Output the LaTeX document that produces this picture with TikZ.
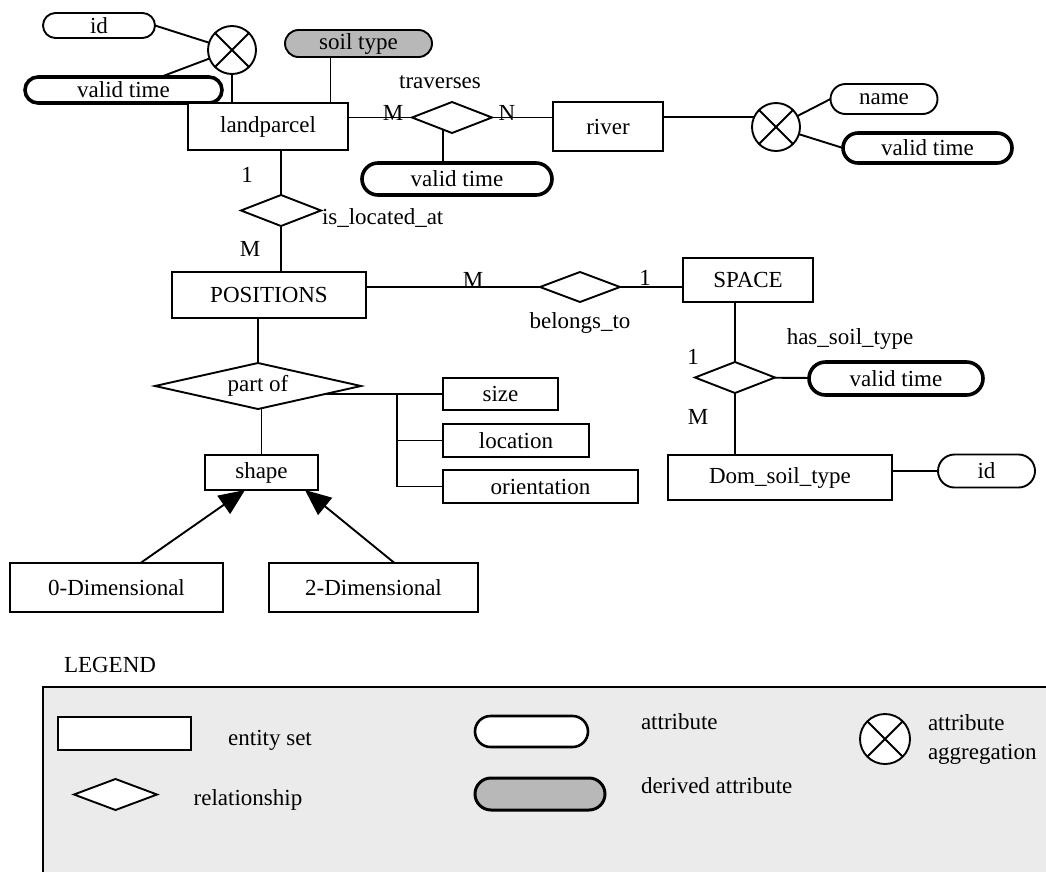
\documentclass[tikz,border=0pt]{standalone}
\usepackage{fontspec}
\setmainfont{Liberation Serif}
\usetikzlibrary{shapes.geometric,shapes.misc,arrows.meta,backgrounds}
\begin{document}
\begin{tikzpicture}[x=1pt,y=-1pt,
  every node/.style={font=\fontsize{23}{29}\selectfont, inner sep=0pt, outer sep=0pt},
  conn/.style={line width=1.9pt},
  ent/.style={draw, rectangle, line width=1.9pt, fill=white},
  attr/.style={draw, rounded rectangle, line width=1.9pt, fill=white},
  vattr/.style={attr, line width=3.6pt},
  derived/.style={fill=black!28},
  rel/.style={draw, diamond, line width=1.9pt, fill=white},
  agg/.style={draw, circle, line width=1.9pt, fill=white, minimum size=48pt},
  gen/.style={conn, -{Triangle[length=26pt,width=22pt]}}
]
\useasboundingbox (0,0) rectangle (1046,871);
\clip (0,0) rectangle (1046,871);

% ---------- legend background ----------
\fill[black!8] (43,687) rectangle (1070,900);
\draw[conn] (43,900) -- (43,687) -- (1070,687);

% ---------- nodes ----------
\node[attr, minimum width=112pt, minimum height=25pt] (idL) at (99,25.5) {id};
\node[agg] (aggL) at (232,50) {};
\node[vattr, minimum width=197pt, minimum height=26pt] (vt1) at (123.5,90) {valid time};
\node[attr, derived, minimum width=147pt, minimum height=27pt] (soil) at (358.5,43.5) {soil type};
\node[ent, minimum width=160pt, minimum height=47pt] (lp) at (268,126.5) {landparcel};
\node[rel, minimum width=80pt, minimum height=31pt, aspect=2.6] (trav) at (452,117.5) {};
\node (travL) at (440,82) {traverses};
\node (mTrav) at (393,113) {M};
\node (nTrav) at (507,113) {N};
\node[ent, minimum width=110pt, minimum height=49pt] (river) at (608,126.5) {river};
\node[vattr, minimum width=190pt, minimum height=32pt] (vt2) at (457,179) {valid time};
\node[agg] (aggR) at (776,127) {};
\node[attr, minimum width=107pt, minimum height=30pt] (name) at (884,99) {name};
\node[vattr, minimum width=169pt, minimum height=30pt] (vt3) at (927.5,148) {valid time};

\node[rel, minimum width=80pt, minimum height=31pt, aspect=2.6] (isloc) at (281,210.5) {};
\node[anchor=west] (islocL) at (322,218) {is\_located\_at};
\node (oneA) at (247,175) {1};
\node (mA) at (250,249) {M};
\node[ent, minimum width=194pt, minimum height=46pt] (pos) at (269,295) {POSITIONS};
\node[rel, minimum width=80pt, minimum height=30pt, aspect=2.67] (bel) at (580,287) {};
\node (belL) at (580,323) {belongs\_to};
\node (mB) at (473,280) {M};
\node (oneB) at (645,278) {1};
\node[ent, minimum width=130pt, minimum height=44pt] (space) at (748,280) {SPACE};
\node[rel, minimum width=80pt, minimum height=31pt, aspect=2.6] (hst) at (735,377.5) {};
\node (hstL) at (850,339) {has\_soil\_type};
\node (oneC) at (693,357) {1};
\node (mC) at (698,417) {M};
\node[vattr, minimum width=174pt, minimum height=33pt] (vt4) at (896,378.5) {valid time};
\node[ent, minimum width=224pt, minimum height=45pt] (dom) at (780,477.5) {Dom\_soil\_type};
\node[attr, minimum width=97pt, minimum height=33pt] (domid) at (986.5,471) {id};

\node[rel, minimum width=206pt, minimum height=46pt, aspect=4.5] (partof) at (258,386) {part of};
\node[ent, minimum width=115pt, minimum height=32pt] (sizeb) at (500.5,394) {size};
\node[ent, minimum width=146pt, minimum height=33pt] (locb) at (516,440.5) {location};
\node[ent, minimum width=195pt, minimum height=33pt] (orib) at (540.5,486.5) {orientation};
\coordinate (bus) at (397,394);
\node[ent, minimum width=113pt, minimum height=35pt] (shape) at (261.5,472.5) {shape};
\node[ent, minimum width=213pt, minimum height=49pt] (d0) at (116.5,587.5) {0-Dimensional};
\node[ent, minimum width=209pt, minimum height=49pt] (d2) at (373.5,587.5) {2-Dimensional};

% aggregation crosses
\draw[conn] (aggL.45) -- (aggL.225) (aggL.135) -- (aggL.315);
\draw[conn] (aggR.45) -- (aggR.225) (aggR.135) -- (aggR.315);

% generalisation arrows
\draw[gen] ([xshift=24pt]d0.north) -- ([xshift=-16.5pt]shape.south);
\draw[gen] ([xshift=21pt]d2.north) -- ([xshift=43.5pt]shape.south);

% ---------- connectors ----------
\begin{pgfonlayer}{background}
\draw[conn] (idL.east) -- (aggL);
\draw[conn] ([xshift=37pt]vt1.north) -- (aggL);
\draw[conn] (aggL) -- (aggL |- lp.north);
\draw[conn] ([xshift=32pt]soil.south west) -- ([xshift=32pt]soil.south west |- lp.north);
\draw[conn] (trav) -- (trav -| lp.east);
\draw[conn] (trav) -- (trav -| river.west);
\draw[conn] ([xshift=-9pt]trav.center) -- ([xshift=-9pt]trav.center |- vt2.north);
\draw[conn] (aggR.155) -- (aggR.155 -| river.east);
\draw[conn] (aggR) -- (name.west);
\draw[conn] (aggR) -- (vt3.west);
\draw[conn] (isloc) -- (isloc |- lp.south);
\draw[conn] (isloc) -- (isloc |- pos.north);
\draw[conn] (bel) -- (bel -| pos.east);
\draw[conn] (bel) -- (bel -| space.west);
\draw[conn] (hst) -- (hst |- space.south);
\draw[conn] (hst) -- (hst |- dom.north);
\draw[conn] (hst) -- (vt4);
\draw[conn] (domid) -- (domid -| dom.east);
\draw[conn] (partof) -- (partof |- pos.south);
\draw[conn] (shape) -- (shape |- partof.center);
\draw[conn] (sizeb) -- (sizeb -| partof.center);
\draw[conn] (bus) -- (bus |- orib) -- (orib);
\draw[conn] (bus |- locb) -- (locb);
\end{pgfonlayer}

% ---------- legend ----------
\node (legT) at (110,665) {LEGEND};
\node[ent, minimum width=133pt, minimum height=33pt] (lgEnt) at (124.5,733.5) {};
\node (lgEntL) at (270,740) {entity set};
\node[rel, minimum width=83pt, minimum height=31pt, aspect=2.7] (lgRel) at (115.5,794.5) {};
\node (lgRelL) at (248,800) {relationship};
\node[attr, line width=2.6pt, minimum width=113pt, minimum height=31pt] (lgAtt) at (531.5,731.5) {};
\node[anchor=west] (lgAttL) at (641,722) {attribute};
\node[attr, derived, line width=3pt, minimum width=130pt, minimum height=32pt] (lgDer) at (540,794) {};
\node[anchor=west] (lgDerL) at (641,786) {derived attribute};
\node[agg, minimum size=50pt] (lgAgg) at (885,739) {};
\draw[conn] (lgAgg.45) -- (lgAgg.225) (lgAgg.135) -- (lgAgg.315);
\node[anchor=west, align=left] (lgAggL) at (928,739) {attribute\\aggregation};
\end{tikzpicture}
\end{document}
